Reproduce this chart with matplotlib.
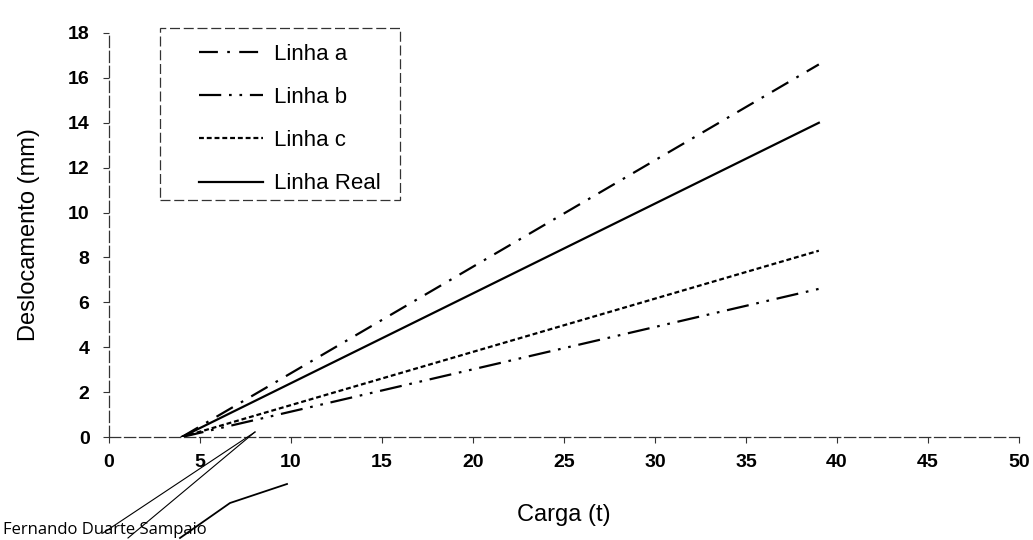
import matplotlib.pyplot as plt
from matplotlib.lines import Line2D
from matplotlib.patches import Rectangle

# dados (carga em t, deslocamento em mm)
carga = [4, 39]
linha_a = [0, 16.6]
linha_b = [0, 6.6]
linha_c = [0, 8.3]
linha_real = [0, 14.0]

plt.rcParams['font.family'] = ['Liberation Sans', 'DejaVu Sans']

W, H = 1033, 540
fig = plt.figure(figsize=(W / 100, H / 100), dpi=100)
ax = fig.add_axes([0.1055, 0.1907, 0.881, 0.7482])

ax.plot(carga, linha_a, color='black', lw=1.6, linestyle=(0, (8.5, 4.2, 1.2, 4.2)), label='Linha a')
ax.plot(carga, linha_b, color='black', lw=1.6, linestyle=(0, (10, 3.5, 1.2, 3.5, 1.2, 3.5)), label='Linha b')
ax.plot(carga, linha_c, color='black', lw=1.6, linestyle=(0, (2.2, 1.3)), label='Linha c')
ax.plot(carga, linha_real, color='black', lw=1.6, linestyle='-', label='Linha Real')

ax.set_xlim(0, 50)
ax.set_ylim(0, 18)
ax.set_xticks(range(0, 51, 5))
ax.set_yticks(range(0, 19, 2))

for s in ['top', 'right']:
    ax.spines[s].set_visible(False)
for s in ['left', 'bottom']:
    ax.spines[s].set_linestyle((0, (9, 3)))
    ax.spines[s].set_linewidth(0.9)
    ax.spines[s].set_color('#333333')
ax.spines['bottom'].set_zorder(0)

ax.tick_params(axis='both', direction='out', length=4, width=0.8, colors='#333333',
               labelcolor='black', labelsize=14)
ax.tick_params(axis='x', pad=8)
ax.tick_params(axis='y', pad=10)
for lab in ax.get_xticklabels() + ax.get_yticklabels():
    lab.set_fontweight('bold')

ax.set_xlabel('Carga (t)', fontsize=17, labelpad=24)
ax.set_ylabel('Deslocamento (mm)', fontsize=17, labelpad=20)

# caixa da legenda tracejada
fig.add_artist(Rectangle((160 / W, 1 - 200 / H), 240 / W, 172 / H, transform=fig.transFigure,
                         fill=False, edgecolor='#333333', lw=0.9, linestyle=(0, (8, 3))))
leg = ax.legend(loc='upper left', bbox_to_anchor=(192 / W, 1 - 37 / H),
                bbox_transform=fig.transFigure, fontsize=16, frameon=False,
                handlelength=2.9, handletextpad=0.5, labelspacing=1.0,
                borderpad=0.3, borderaxespad=0)

# marcas a caneta e texto da folha digitalizada
for xs, ys, w in [([103, 255], [533, 432], 0.8), ([128, 255], [538, 432], 0.8),
                  ([180, 230, 287], [538, 503, 484], 1.3)]:
    fig.add_artist(Line2D([x / W for x in xs], [1 - y / H for y in ys],
                          color='black', lw=w, transform=fig.transFigure))
fig.text(0.003, 0.004, 'Fernando Duarte Sampaio', family='Open Sans',
         fontsize=12, va='bottom', ha='left')

fig.savefig('out.png', dpi=100)
